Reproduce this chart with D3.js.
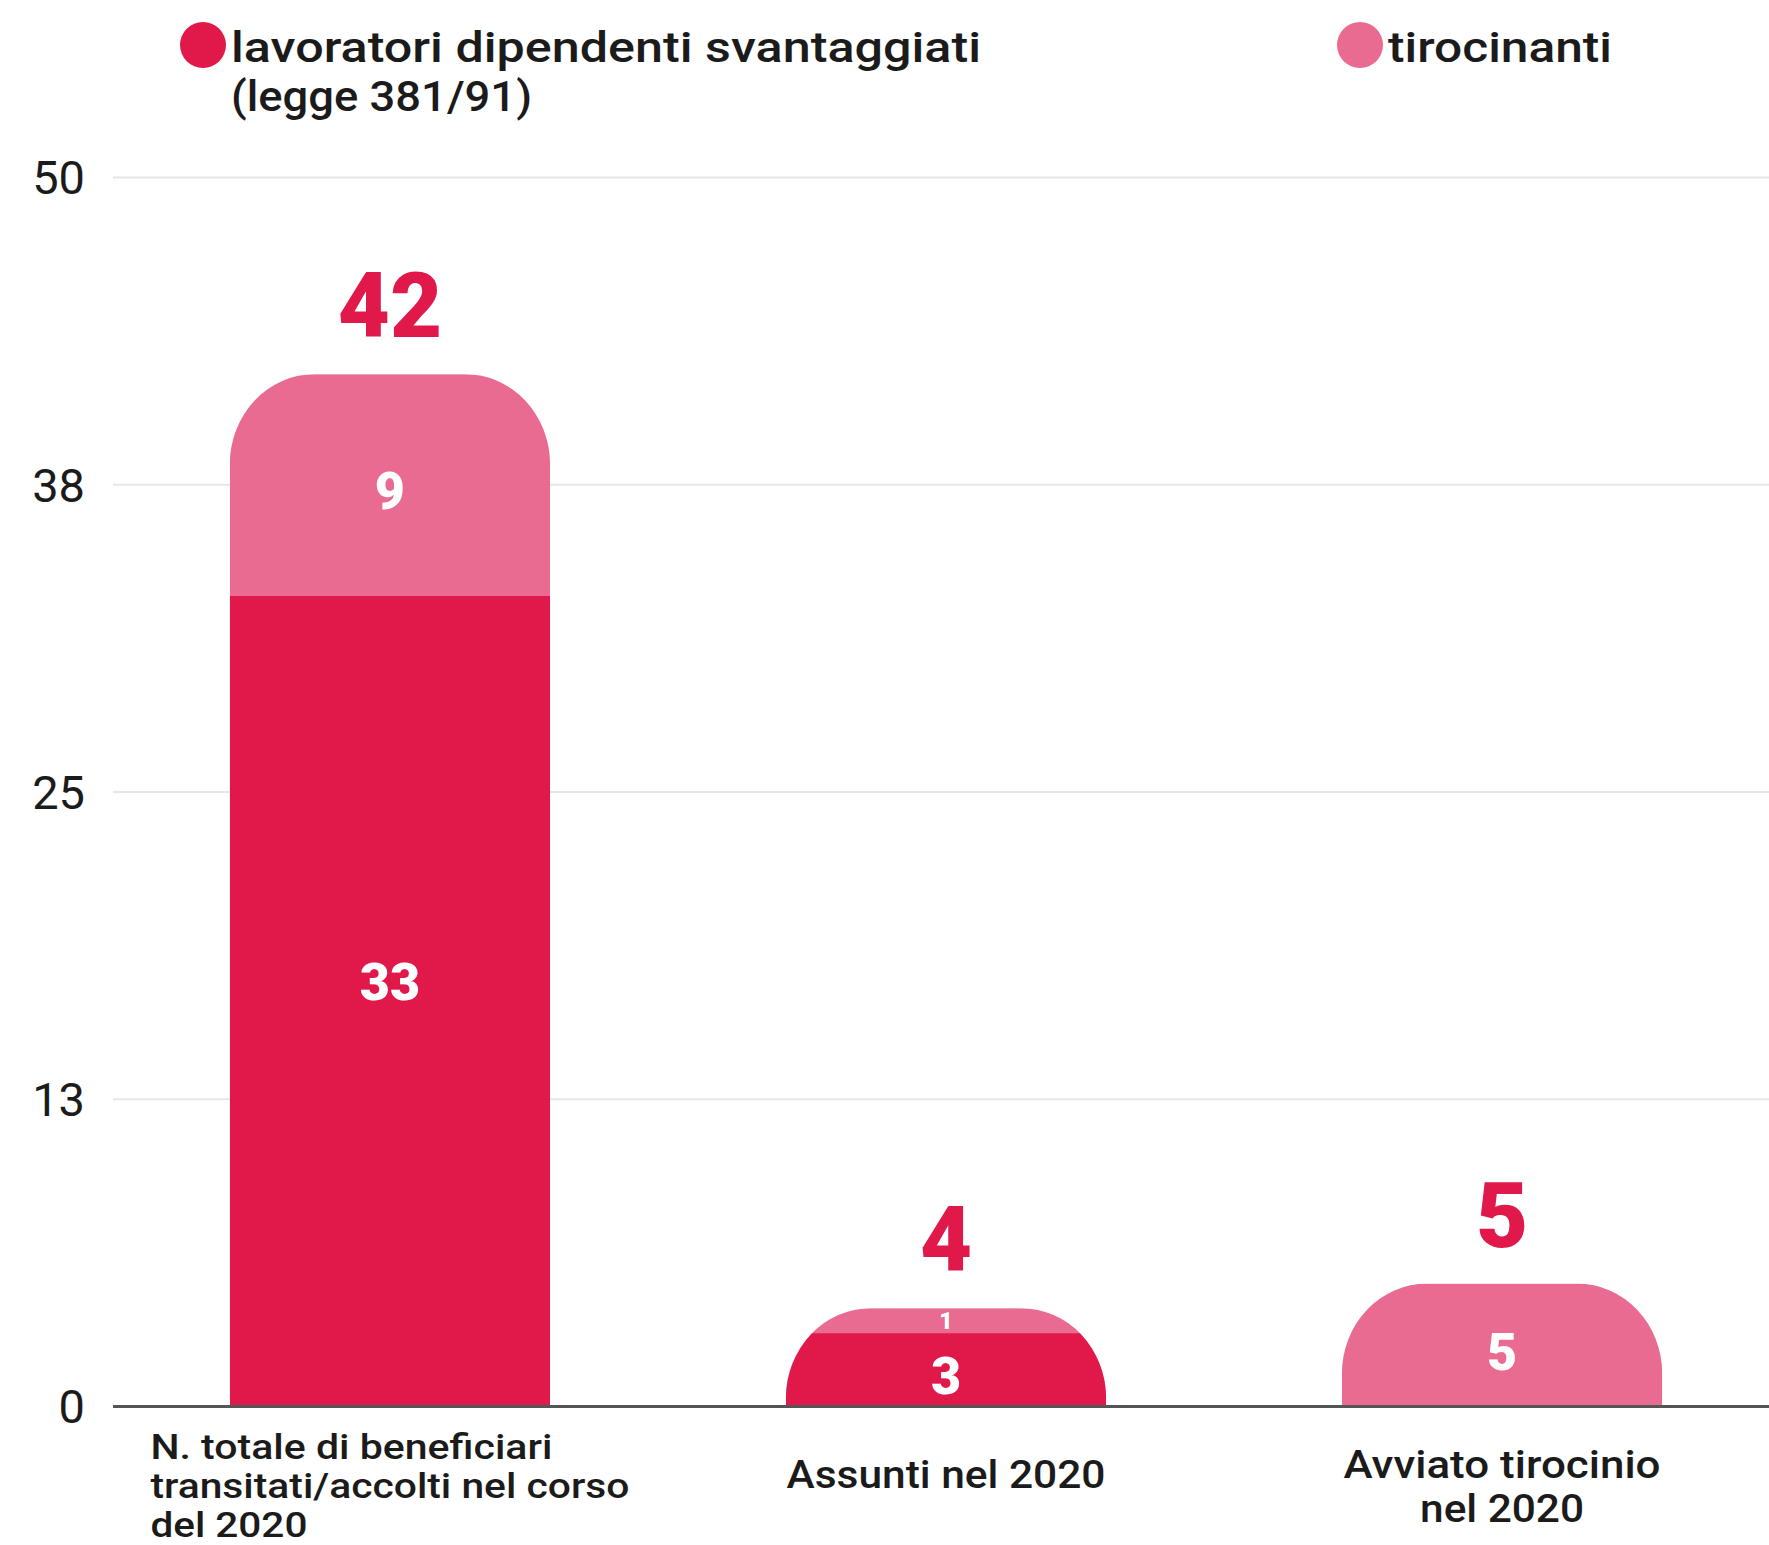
<!DOCTYPE html>
<html><head><meta charset="utf-8">
<script src="https://cdn.jsdelivr.net/npm/d3@7"></script>
<style>
body{margin:0;background:#fff;}
svg{display:block;}
</style>
</head><body>
<svg id="chart" width="1769" height="1545"></svg>
<script>
// ---- data ----
const categoryKeys = ["totale", "assunti", "tirocinio"];
const categoryLabels = [
  ["N. totale di beneficiari", "transitati/accolti nel corso", "del 2020"],
  ["Assunti nel 2020"],
  ["Avviato tirocinio", "nel 2020"]
];
const lavoratori = [33, 3, 0];
const tirocinanti = [9, 1, 5];
const totals = [42, 4, 5];
const tickValues = [0, 12.5, 25, 37.5, 50];
const tickLabels = ["0", "13", "25", "38", "50"];
const seriesKeys = ["lavoratori", "tirocinanti"];
const seriesLabels = [["lavoratori dipendenti svantaggiati", "(legge 381/91)"], ["tirocinanti"]];

// ---- styling / layout ----
const colors = {lavoratori: "#E1194B", tirocinanti: "#EA6B92"};
const W = 1769, H = 1545;
const plotLeft = 113;
const svg = d3.select("#chart");
const textFont = "Roboto, 'Liberation Sans', Arial, sans-serif";
const heavyFont = "Roboto, Lato, 'Liberation Sans', sans-serif";

const y = d3.scaleLinear().domain([0, 50]).range([1406.5, 177.5]);
const x = d3.scaleBand().domain(categoryKeys).range([113, 1779]).paddingInner(0.424).paddingOuter(0.21);

function fit(sel, target) {
  sel.each(function() {
    const w = this.getComputedTextLength();
    if (target && Math.abs(w - target) > 1) {
      d3.select(this).attr("textLength", target).attr("lengthAdjust", "spacingAndGlyphs");
    }
  });
}

// gridlines
svg.append("g").selectAll("line")
  .data(tickValues.filter(v => v > 0))
  .join("line")
  .attr("x1", plotLeft).attr("x2", W)
  .attr("y1", d => y(d)).attr("y2", d => y(d))
  .attr("stroke", "#e6e6e6").attr("stroke-width", 2);

// y tick labels
svg.append("g").selectAll("text")
  .data(tickValues)
  .join("text")
  .attr("x", 85).attr("y", d => y(d))
  .attr("dy", "0.36em")
  .attr("text-anchor", "end")
  .attr("font-family", textFont)
  .attr("font-size", 47)
  .attr("font-weight", 400)
  .attr("fill", "#1b1b1b")
  .text((d, i) => tickLabels[i]);

// stack
const rows = categoryKeys.map((k, i) => ({key: k, lavoratori: lavoratori[i], tirocinanti: tirocinanti[i]}));
const stacked = d3.stack().keys(seriesKeys)(rows);

const defs = svg.append("defs");
const rx = 85, ry = 90;
rows.forEach((r, i) => {
  const x0 = x(r.key), x1 = x0 + x.bandwidth();
  const yb = y(0), yt = y(totals[i]);
  const h = yb - yt;
  const rY = Math.min(ry, h), rX = Math.min(rx, x.bandwidth() / 2);
  const p = `M${x0},${yb} L${x0},${yt + rY} A${rX},${rY} 0 0 1 ${x0 + rX},${yt} L${x1 - rX},${yt} A${rX},${rY} 0 0 1 ${x1},${yt + rY} L${x1},${yb} Z`;
  defs.append("clipPath").attr("id", "clip" + i).append("path").attr("d", p);
});

const barsG = svg.append("g");
rows.forEach((r, i) => {
  const g = barsG.append("g").attr("clip-path", `url(#clip${i})`);
  stacked.forEach(s => {
    const seg = s[i];
    if (seg[1] - seg[0] <= 0) return;
    g.append("rect")
      .attr("x", x(r.key))
      .attr("width", x.bandwidth())
      .attr("y", y(seg[1]))
      .attr("height", y(seg[0]) - y(seg[1]) + 0.5)
      .attr("fill", colors[s.key]);
  });
});

// segment labels
stacked.forEach(s => {
  s.forEach((seg, i) => {
    const v = seg[1] - seg[0];
    if (v <= 0) return;
    const h = y(seg[0]) - y(seg[1]);
    const fs = Math.min(52, h * 0.95);
    const mid = (y(seg[0]) + y(seg[1])) / 2;
    svg.append("text")
      .attr("x", x(categoryKeys[i]) + x.bandwidth() / 2)
      .attr("y", h > 300 ? mid - 20 : mid + (h > 60 ? 6 : 0))
      .attr("dy", "0.36em")
      .attr("text-anchor", "middle")
      .attr("font-family", heavyFont)
      .attr("font-weight", 900)
      .attr("font-size", fs)
      .attr("fill", "#fff")
      .text(v);
  });
});

// baseline
svg.append("line")
  .attr("x1", plotLeft).attr("x2", W)
  .attr("y1", y(0)).attr("y2", y(0))
  .attr("stroke", "#555").attr("stroke-width", 3);

// total labels
svg.append("g").selectAll("text")
  .data(totals)
  .join("text")
  .attr("x", (d, i) => x(categoryKeys[i]) + x.bandwidth() / 2)
  .attr("y", d => y(d) - 37)
  .attr("text-anchor", "middle")
  .attr("font-family", heavyFont)
  .attr("font-weight", 900)
  .attr("font-size", 90)
  .attr("fill", colors.lavoratori)
  .text(d => d);

// category labels
const catWidths = [[402, 479, 157], [319], [317, 164]];
const catBaselines = [[1459, 1498, 1537], [1488], [1478, 1522]];
categoryLabels.forEach((lines, i) => {
  const cx = x(categoryKeys[i]) + x.bandwidth() / 2;
  const maxW = d3.max(catWidths[i]);
  const leftAlign = lines.length > 2;
  lines.forEach((ln, j) => {
    const t = svg.append("text")
      .attr("x", leftAlign ? cx - maxW / 2 : cx)
      .attr("y", catBaselines[i][j])
      .attr("text-anchor", leftAlign ? "start" : "middle")
      .attr("font-family", textFont)
      .attr("font-size", lines.length > 2 ? 35 : 39)
      .attr("font-weight", 500)
      .attr("fill", "#1b1b1b")
      .text(ln);
    fit(t, catWidths[i][j]);
  });
});

// legend
const legendPos = [{cx: 203, cy: 45}, {cx: 1360, cy: 45}];
const legendWidths = [[750, 301], [224]];
seriesKeys.forEach((k, i) => {
  const g = svg.append("g");
  g.append("circle")
    .attr("cx", legendPos[i].cx).attr("cy", legendPos[i].cy)
    .attr("r", 23).attr("fill", colors[k]);
  seriesLabels[i].forEach((ln, j) => {
    const t = g.append("text")
      .attr("x", legendPos[i].cx + 28)
      .attr("y", 62 + j * 49)
      .attr("font-family", textFont)
      .attr("font-size", 43)
      .attr("font-weight", 500)
      .attr("fill", "#1b1b1b")
      .text(ln);
    fit(t, legendWidths[i][j]);
  });
});
</script>
</body></html>
